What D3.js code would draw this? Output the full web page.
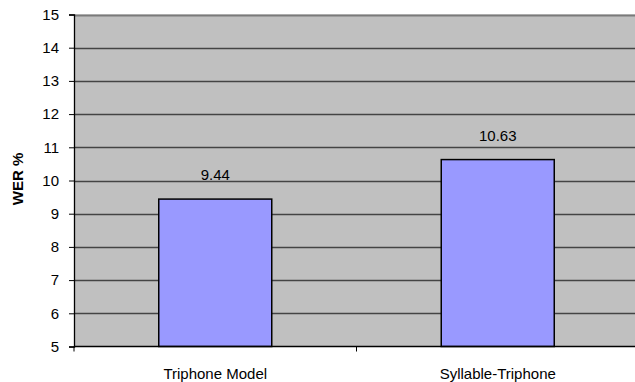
<!DOCTYPE html>
<html>
<head>
<meta charset="utf-8">
<script src="https://cdn.jsdelivr.net/npm/d3@7"></script>
<style>
  html, body { margin: 0; padding: 0; background: #fff; }
  svg { display: block; font-family: "Liberation Sans", Arial, sans-serif; }
</style>
</head>
<body>
<svg id="chart" width="635" height="382"></svg>
<script>
// WER by acoustic model
const categories = ["Triphone Model", "Syllable-Triphone"];
const werValues = [9.44, 10.63];
const yTicks = [5, 6, 7, 8, 9, 10, 11, 12, 13, 14, 15];
const yTitle = "WER %";

const svg = d3.select("#chart");
const margin = { left: 74, right: -4, top: 14.5, bottom: 35.5 };
const W = 635, H = 382;
const x0 = margin.left, x1 = W - margin.right;
const yTop = margin.top, yBot = H - margin.bottom;
const fontSize = 15;

const x = d3.scaleBand().domain(categories).range([x0, x1]).paddingInner(0).paddingOuter(0);
const y = d3.scaleLinear().domain([5, 15]).range([yBot, yTop]);

// plot background
svg.append("rect")
  .attr("x", x0).attr("y", yTop)
  .attr("width", x1 - x0).attr("height", yBot - yTop)
  .attr("fill", "#c0c0c0");

// horizontal gridlines
svg.append("g").selectAll("line")
  .data(yTicks.filter(t => t > 5))
  .join("line")
  .attr("x1", x0).attr("x2", x1)
  .attr("y1", d => Math.round(y(d)) + 0.5).attr("y2", d => Math.round(y(d)) + 0.5)
  .attr("stroke", d => d === 15 ? "#7a7a7a" : "#444")
  .attr("stroke-width", d => d === 15 ? 2 : 1.3);

// bars
const barW = x.bandwidth() * 0.4;
svg.append("g").selectAll("rect")
  .data(werValues)
  .join("rect")
  .attr("x", (d, i) => x(categories[i]) + (x.bandwidth() - barW) / 2)
  .attr("y", d => y(d))
  .attr("width", barW)
  .attr("height", d => yBot - y(d))
  .attr("fill", "#9999ff")
  .attr("stroke", "#000")
  .attr("stroke-width", 1.5);

// value labels
svg.append("g").selectAll("text")
  .data(werValues)
  .join("text")
  .attr("x", (d, i) => x(categories[i]) + x.bandwidth() / 2)
  .attr("y", d => y(d) - 19)
  .attr("text-anchor", "middle")
  .attr("font-size", fontSize)
  .attr("fill", "#000")
  .text(d => d.toFixed(2));

// y axis
const yAxis = d3.axisLeft(y).tickValues(yTicks).tickSize(5).tickPadding(10).tickFormat(d3.format("d"));
const gy = svg.append("g").attr("transform", `translate(${x0},0)`).call(yAxis);
gy.select(".domain").attr("stroke", "#000").attr("stroke-width", 1.3);
gy.selectAll(".tick line").attr("stroke", "#000");
gy.selectAll(".tick text").attr("font-size", fontSize).attr("fill", "#000")
  .attr("font-family", "Liberation Sans, Arial, sans-serif");

// x axis baseline with category boundary ticks
const gx = svg.append("g");
gx.append("line").attr("x1", x0).attr("x2", x1).attr("y1", yBot).attr("y2", yBot)
  .attr("stroke", "#000").attr("stroke-width", 1.3);
gx.selectAll(".bnd")
  .data(categories.map(c => x(c)).concat([x1]))
  .join("line")
  .attr("class", "bnd")
  .attr("x1", d => d).attr("x2", d => d)
  .attr("y1", yBot).attr("y2", yBot + 5)
  .attr("stroke", "#000");
gx.selectAll("text")
  .data(categories)
  .join("text")
  .attr("x", d => x(d) + x.bandwidth() / 2)
  .attr("y", yBot + 32)
  .attr("text-anchor", "middle")
  .attr("font-size", fontSize)
  .attr("fill", "#000")
  .text(d => d);

// y axis title
svg.append("text")
  .attr("transform", `translate(23,${(yTop + yBot) / 2 - 1.5}) rotate(-90)`)
  .attr("text-anchor", "middle")
  .attr("font-size", fontSize)
  .attr("font-weight", "bold")
  .attr("fill", "#000")
  .text(yTitle);
</script>
</body>
</html>
